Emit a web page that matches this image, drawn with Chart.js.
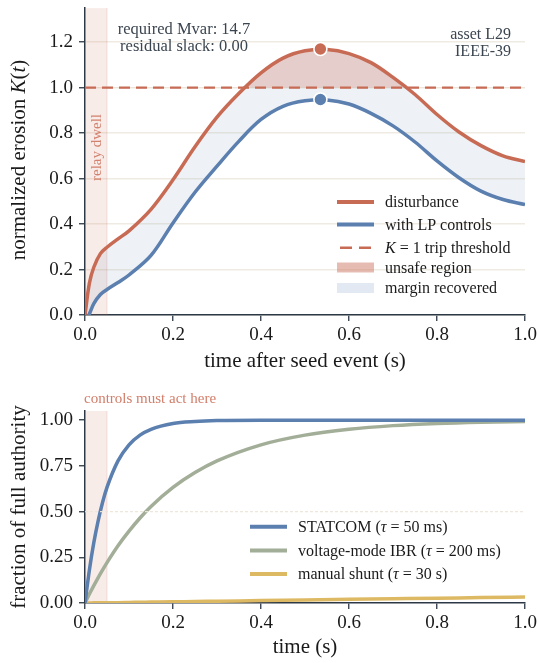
<!DOCTYPE html>
<html>
<head>
<meta charset="utf-8">
<script src="https://cdn.jsdelivr.net/npm/chart.js@4.4.1/dist/chart.umd.min.js"></script>
<style>
  body { margin: 0; background: #fff; }
  #wrap { position: relative; width: 538px; height: 663px; }
  canvas { position: absolute; left: 0; }
</style>
</head>
<body>
<div id="wrap">
  <canvas id="erosion" width="538" height="375" style="top:0"></canvas>
  <canvas id="authority" width="538" height="288" style="top:375px"></canvas>
</div>
<script>
// ---- top panel: erosion K(t) ----
const timeTop = [0, 0.01, 0.02, 0.035, 0.05, 0.075, 0.1, 0.15, 0.2, 0.25, 0.3, 0.35, 0.4, 0.45, 0.5, 0.55, 0.6, 0.65, 0.7, 0.75, 0.8, 0.85, 0.9, 0.95, 1.0];
const erosionDisturbance = [0, 0.14, 0.21, 0.27, 0.298, 0.335, 0.37, 0.465, 0.595, 0.74, 0.87, 0.975, 1.065, 1.13, 1.162, 1.168, 1.15, 1.11, 1.045, 0.97, 0.882, 0.805, 0.745, 0.70, 0.675];
const erosionControls = [-0.03, 0.005, 0.05, 0.09, 0.112, 0.143, 0.176, 0.262, 0.405, 0.54, 0.655, 0.765, 0.86, 0.918, 0.942, 0.946, 0.928, 0.887, 0.832, 0.761, 0.678, 0.604, 0.545, 0.508, 0.486];
const peakTime = 0.535;
const peakValues = [1.17, 0.948];
const tripThreshold = 1.0;
const relayDwell = 0.05;
const xTicks = [0, 0.2, 0.4, 0.6, 0.8, 1.0];
const yTicksTop = [0, 0.2, 0.4, 0.6, 0.8, 1.0, 1.2];
const notesLeft = ['required Mvar: 14.7', 'residual slack: 0.00'];
const notesRight = ['asset L29', 'IEEE-39'];

// ---- bottom panel: control authority ----
const timeBottom = [0, 0.01, 0.02, 0.03, 0.04, 0.05, 0.075, 0.1, 0.125, 0.15, 0.2, 0.25, 0.3, 0.4, 0.5, 0.6, 0.7, 0.8, 0.9, 1.0];
const statcom = [0, 0.181, 0.330, 0.451, 0.551, 0.632, 0.777, 0.865, 0.918, 0.950, 0.982, 0.993, 0.998, 1.0, 1.0, 1.0, 1.0, 1.0, 1.0, 1.0];
const ibr = [0, 0.049, 0.095, 0.139, 0.181, 0.221, 0.313, 0.393, 0.465, 0.528, 0.632, 0.713, 0.777, 0.865, 0.918, 0.950, 0.970, 0.982, 0.989, 0.993];
const manualShunt = [0, 0.0, 0.001, 0.001, 0.001, 0.002, 0.002, 0.003, 0.004, 0.005, 0.007, 0.008, 0.010, 0.013, 0.017, 0.020, 0.023, 0.026, 0.030, 0.033];
const yTicksBottom = [0, 0.25, 0.5, 0.75, 1.0];

const RED = '#c86b55';
const BLUE = '#5b7faf';
const SAGE = '#a3ae98';
const GOLD = '#deb964';
const AXIS = '#2c3845';
const TEXT = '#1a1a1a';
const NOTE = '#3b4550';
const GRID = '#f0ebe2';
const SERIF = '"Liberation Serif", "DejaVu Serif", serif';

function font(size, italic) {
    return (italic ? 'italic ' : '') + size + 'px ' + SERIF;
}

// draw text made of [text, italic] parts
function richText(ctx, parts, x, y, size, align) {
    let w = 0;
    parts.forEach(p => { ctx.font = font(size, p[1]); w += ctx.measureText(p[0]).width; });
    let cx = align === 'center' ? x - w / 2 : (align === 'right' ? x - w : x);
    ctx.textAlign = 'left';
    parts.forEach(p => {
        ctx.font = font(size, p[1]);
        ctx.fillText(p[0], cx, y);
        cx += ctx.measureText(p[0]).width;
    });
}

function rotatedText(ctx, parts, x, y, size) {
    ctx.save();
    ctx.translate(x, y);
    ctx.rotate(-Math.PI / 2);
    richText(ctx, parts, 0, 0, size, 'center');
    ctx.restore();
}

const pts = (xs, ys) => xs.map((x, i) => ({ x: x, y: ys[i] }));

function axisOptions(ticks, digits, isY, gridOn) {
    return {
        type: 'linear',
        afterBuildTicks: s => { s.ticks = ticks.map(v => ({ value: v })); },
        afterFit: s => {
            if (isY) s.width = 85; else s.height = 60;
            // keep the plot box where we put it
            s.paddingTop = 0; s.paddingBottom = 0; s.paddingLeft = 0; s.paddingRight = 0;
        },
        grid: {
            drawOnChartArea: gridOn,
            color: GRID,
            lineWidth: 1.5,
            tickColor: AXIS,
            tickLength: 6,
            tickWidth: 1.3
        },
        border: { color: AXIS, width: 1.5 },
        ticks: {
            font: { family: SERIF, size: 19 },
            color: TEXT,
            padding: isY ? 6 : 3,
            maxRotation: 0,
            callback: v => v.toFixed(digits)
        }
    };
}

function bandAt(chart, color) {
    const { ctx, chartArea, scales } = chart;
    const x0 = scales.x.getPixelForValue(0);
    const x1 = scales.x.getPixelForValue(relayDwell);
    ctx.save();
    ctx.fillStyle = color;
    ctx.fillRect(x0, chartArea.top, x1 - x0, chartArea.bottom - chartArea.top);
    ctx.strokeStyle = 'rgba(200,107,85,0.12)';
    ctx.lineWidth = 1.5;
    ctx.beginPath();
    ctx.moveTo(x1, chartArea.top);
    ctx.lineTo(x1, chartArea.bottom);
    ctx.stroke();
    ctx.restore();
}

function legendRows(ctx, rows, x0, x1, textX) {
    rows.forEach(r => {
        ctx.save();
        if (r.kind === 'box') {
            ctx.fillStyle = r.color;
            ctx.fillRect(x0, r.y - 5, x1 - x0, 10);
        } else {
            ctx.strokeStyle = r.color;
            ctx.lineWidth = r.kind === 'dash' ? 2.4 : 4;
            if (r.kind === 'dash') ctx.setLineDash([12, 7]);
            ctx.beginPath();
            ctx.moveTo(x0 + (r.kind === 'dash' ? 3 : 0), r.y);
            ctx.lineTo(x1, r.y);
            ctx.stroke();
        }
        ctx.restore();
        ctx.fillStyle = TEXT;
        ctx.textBaseline = 'middle';
        richText(ctx, r.text, textX, r.y + 1, 16, 'left');
    });
}

// ---------- top chart ----------
const topDecor = {
    id: 'topDecor',
    beforeDatasetsDraw(chart) {
        bandAt(chart, 'rgba(200,107,85,0.13)');
    },
    afterDraw(chart) {
        const ctx = chart.ctx;
        ctx.save();
        ctx.textBaseline = 'middle';
        ctx.fillStyle = NOTE;
        notesLeft.forEach((t, i) => richText(ctx, [[t, false]], 184, 29.5 + i * 16.7, 16.5, 'center'));
        notesRight.forEach((t, i) => richText(ctx, [[t, false]], 511, 35 + i * 16.7, 16, 'right'));

        ctx.fillStyle = 'rgba(205,112,90,0.85)';
        rotatedText(ctx, [['relay dwell', false]], 97, 147.5, 15);

        legendRows(ctx, [
            { kind: 'line', color: RED, y: 202, text: [['disturbance', false]] },
            { kind: 'line', color: BLUE, y: 224.5, text: [['with LP controls', false]] },
            { kind: 'dash', color: RED, y: 247.7, text: [['K', true], [' = 1 trip threshold', false]] },
            { kind: 'box', color: 'rgba(200,107,85,0.45)', y: 267.5, text: [['unsafe region', false]] },
            { kind: 'box', color: 'rgba(91,127,175,0.17)', y: 288, text: [['margin recovered', false]] }
        ], 337, 374, 385);

        ctx.fillStyle = TEXT;
        ctx.textBaseline = 'middle';
        richText(ctx, [['time after seed event (s)', false]], 305, 361, 21, 'center');
        rotatedText(ctx, [['normalized erosion ', false], ['K', true], ['(', false], ['t', true], [')', false]], 19.5, 160, 21);
        ctx.restore();
    }
};

new Chart(document.getElementById('erosion'), {
    type: 'line',
    data: {
        datasets: [
            {
                label: 'disturbance',
                data: pts(timeTop, erosionDisturbance),
                borderColor: RED,
                borderWidth: 3.5,
                pointRadius: 0,
                tension: 0.35,
                fill: { target: { value: tripThreshold }, above: 'rgba(200,107,85,0.28)', below: 'rgba(0,0,0,0)' },
                order: 1,
                clip: 0
            },
            {
                label: 'with LP controls',
                data: pts(timeTop, erosionControls),
                borderColor: BLUE,
                backgroundColor: 'rgba(91,127,175,0.1)',
                borderWidth: 3.5,
                pointRadius: 0,
                tension: 0.35,
                fill: '-1',
                order: 2,
                clip: 0
            },
            {
                label: 'K = 1 trip threshold',
                data: [{ x: xTicks[0], y: tripThreshold }, { x: xTicks[xTicks.length - 1], y: tripThreshold }],
                borderColor: RED,
                borderWidth: 2.2,
                borderDash: [11, 6],
                pointRadius: 0,
                fill: false,
                order: 0
            },
            {
                type: 'scatter',
                label: 'peaks',
                data: peakValues.map(v => ({ x: peakTime, y: v })),
                pointRadius: 6.5,
                pointBackgroundColor: [RED, BLUE],
                pointBorderColor: '#ffffff',
                pointBorderWidth: 1.6,
                order: -1,
                clip: false
            }
        ]
    },
    options: {
        responsive: false,
        animation: false,
        events: [],
        layout: { padding: { left: 0, right: 13, top: 5, bottom: 0 } },
        plugins: { legend: { display: false }, tooltip: { enabled: false } },
        scales: {
            x: Object.assign(axisOptions(xTicks, 1, false, false), { min: 0, max: 1 }),
            y: Object.assign(axisOptions(yTicksTop, 1, true, true), { min: 0, max: 1.35 })
        }
    },
    plugins: [topDecor]
});

// ---------- bottom chart ----------
const bottomDecor = {
    id: 'bottomDecor',
    beforeDatasetsDraw(chart) {
        bandAt(chart, 'rgba(200,107,85,0.13)');
    },
    afterDatasetsDraw(chart) {
        const { ctx, chartArea, scales } = chart;
        const y = scales.y.getPixelForValue(0.5);
        ctx.save();
        ctx.strokeStyle = 'rgba(238,230,218,0.95)';
        ctx.lineWidth = 1.3;
        ctx.setLineDash([3, 2]);
        ctx.beginPath();
        ctx.moveTo(chartArea.left, y);
        ctx.lineTo(chartArea.right, y);
        ctx.stroke();
        ctx.restore();
    },
    afterDraw(chart) {
        const ctx = chart.ctx;
        ctx.save();
        ctx.textBaseline = 'middle';
        ctx.fillStyle = 'rgba(205,112,90,0.9)';
        richText(ctx, [['controls must act here', false]], 84, 24, 15, 'left');

        legendRows(ctx, [
            { kind: 'line', color: BLUE, y: 151.7, text: [['STATCOM (', false], ['τ', true], [' = 50 ms)', false]] },
            { kind: 'line', color: SAGE, y: 175.5, text: [['voltage-mode IBR (', false], ['τ', true], [' = 200 ms)', false]] },
            { kind: 'line', color: GOLD, y: 199, text: [['manual shunt (', false], ['τ', true], [' = 30 s)', false]] }
        ], 250, 287, 298);

        ctx.fillStyle = TEXT;
        ctx.textBaseline = 'middle';
        richText(ctx, [['time (s)', false]], 305, 272, 21, 'center');
        rotatedText(ctx, [['fraction of full authority', false]], 19.5, 132, 21);
        ctx.restore();
    }
};

function authoritySeries(label, values, color) {
    return {
        label: label,
        data: pts(timeBottom, values),
        borderColor: color,
        borderWidth: 3.5,
        pointRadius: 0,
        cubicInterpolationMode: 'monotone',
        fill: false
    };
}

new Chart(document.getElementById('authority'), {
    type: 'line',
    data: {
        datasets: [
            authoritySeries('STATCOM', statcom, BLUE),
            authoritySeries('voltage-mode IBR', ibr, SAGE),
            authoritySeries('manual shunt', manualShunt, GOLD)
        ]
    },
    options: {
        responsive: false,
        animation: false,
        events: [],
        layout: { padding: { left: 0, right: 13, top: 36, bottom: 0 } },
        plugins: { legend: { display: false }, tooltip: { enabled: false } },
        scales: {
            x: Object.assign(axisOptions(xTicks, 1, false, false), { min: 0, max: 1 }),
            y: Object.assign(axisOptions(yTicksBottom, 2, true, false), { min: 0, max: 1.05 })
        }
    },
    plugins: [bottomDecor]
});
</script>
</body>
</html>
